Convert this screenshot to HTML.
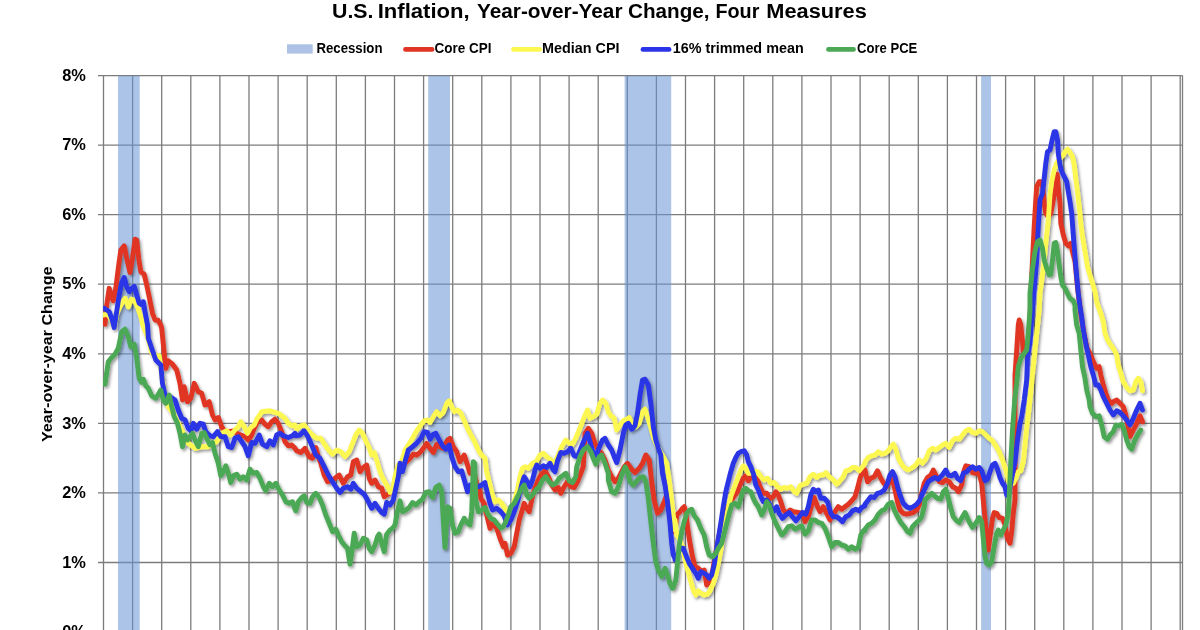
<!DOCTYPE html>
<html><head><meta charset="utf-8"><title>U.S. Inflation</title>
<style>
html,body{margin:0;padding:0;background:#fff;}
body{width:1200px;height:630px;overflow:hidden;font-family:"Liberation Sans",sans-serif;}
svg{display:block}
text{font-family:"Liberation Sans",sans-serif;font-weight:bold;fill:#000;}
</style></head><body>
<svg width="1200" height="630" viewBox="0 0 1200 630">
<defs><clipPath id="cp"><rect x="102.9" y="0" width="1100" height="640"/></clipPath><filter id="sh" x="-5%" y="-5%" width="110%" height="110%"><feDropShadow dx="1.6" dy="2" stdDeviation="1.8" flood-color="#000" flood-opacity="0.42"/></filter></defs>
<rect width="1200" height="630" fill="#fff"/>
<g stroke="#7c7c7c" stroke-width="1.3" shape-rendering="auto"><line x1="103.5" y1="75.5" x2="103.5" y2="640"/><line x1="132.6" y1="75.5" x2="132.6" y2="640"/><line x1="161.7" y1="75.5" x2="161.7" y2="640"/><line x1="190.8" y1="75.5" x2="190.8" y2="640"/><line x1="219.9" y1="75.5" x2="219.9" y2="640"/><line x1="249.0" y1="75.5" x2="249.0" y2="640"/><line x1="278.1" y1="75.5" x2="278.1" y2="640"/><line x1="307.2" y1="75.5" x2="307.2" y2="640"/><line x1="336.3" y1="75.5" x2="336.3" y2="640"/><line x1="365.4" y1="75.5" x2="365.4" y2="640"/><line x1="394.5" y1="75.5" x2="394.5" y2="640"/><line x1="423.6" y1="75.5" x2="423.6" y2="640"/><line x1="452.7" y1="75.5" x2="452.7" y2="640"/><line x1="481.8" y1="75.5" x2="481.8" y2="640"/><line x1="510.9" y1="75.5" x2="510.9" y2="640"/><line x1="540.0" y1="75.5" x2="540.0" y2="640"/><line x1="569.1" y1="75.5" x2="569.1" y2="640"/><line x1="598.2" y1="75.5" x2="598.2" y2="640"/><line x1="627.3" y1="75.5" x2="627.3" y2="640"/><line x1="656.4" y1="75.5" x2="656.4" y2="640"/><line x1="685.5" y1="75.5" x2="685.5" y2="640"/><line x1="714.6" y1="75.5" x2="714.6" y2="640"/><line x1="743.7" y1="75.5" x2="743.7" y2="640"/><line x1="772.8" y1="75.5" x2="772.8" y2="640"/><line x1="801.9" y1="75.5" x2="801.9" y2="640"/><line x1="831.0" y1="75.5" x2="831.0" y2="640"/><line x1="860.1" y1="75.5" x2="860.1" y2="640"/><line x1="889.2" y1="75.5" x2="889.2" y2="640"/><line x1="918.3" y1="75.5" x2="918.3" y2="640"/><line x1="947.4" y1="75.5" x2="947.4" y2="640"/><line x1="976.5" y1="75.5" x2="976.5" y2="640"/><line x1="1005.6" y1="75.5" x2="1005.6" y2="640"/><line x1="1034.7" y1="75.5" x2="1034.7" y2="640"/><line x1="1063.8" y1="75.5" x2="1063.8" y2="640"/><line x1="1092.9" y1="75.5" x2="1092.9" y2="640"/><line x1="1122.0" y1="75.5" x2="1122.0" y2="640"/><line x1="1151.1" y1="75.5" x2="1151.1" y2="640"/><line x1="1180.2" y1="75.5" x2="1180.2" y2="640"/><line x1="98" y1="632.0" x2="1182.5" y2="632.0"/><line x1="98" y1="562.5" x2="1182.5" y2="562.5"/><line x1="98" y1="492.9" x2="1182.5" y2="492.9"/><line x1="98" y1="423.4" x2="1182.5" y2="423.4"/><line x1="98" y1="353.8" x2="1182.5" y2="353.8"/><line x1="98" y1="284.2" x2="1182.5" y2="284.2"/><line x1="98" y1="214.7" x2="1182.5" y2="214.7"/><line x1="98" y1="145.2" x2="1182.5" y2="145.2"/><line x1="98" y1="75.6" x2="1182.5" y2="75.6"/><line x1="1182.5" y1="75.5" x2="1182.5" y2="640"/></g>
<g fill="#6894d3" fill-opacity="0.55"><rect x="118" y="76" width="21.7" height="570"/><rect x="428.2" y="76" width="21.8" height="570"/><rect x="624.6" y="76" width="46.6" height="570"/><rect x="981.1" y="76" width="9.9" height="570"/></g>
<g font-size="20.3">
<text x="332" y="17.5" textLength="41.5" lengthAdjust="spacingAndGlyphs">U.S.</text>
<text x="377.7" y="17.5" textLength="92" lengthAdjust="spacingAndGlyphs">Inflation,</text>
<text x="477" y="17.5" textLength="145.5" lengthAdjust="spacingAndGlyphs">Year-over-Year</text>
<text x="628" y="17.5" textLength="81.5" lengthAdjust="spacingAndGlyphs">Change,</text>
<text x="715.4" y="17.5" textLength="44" lengthAdjust="spacingAndGlyphs">Four</text>
<text x="766.3" y="17.5" textLength="100.5" lengthAdjust="spacingAndGlyphs">Measures</text>
</g>
<g font-size="14.3">
<rect x="287" y="44.3" width="25.7" height="9.3" fill="#adc2e5"/>
<text x="316.5" y="52.9" textLength="66" lengthAdjust="spacingAndGlyphs">Recession</text>
<line x1="405.5" y1="49.4" x2="432" y2="49.4" stroke="#e03524" stroke-width="4.8" stroke-linecap="round"/>
<text x="434.5" y="52.9" textLength="57" lengthAdjust="spacingAndGlyphs">Core CPI</text>
<line x1="513.5" y1="49.4" x2="539.5" y2="49.4" stroke="#fdf851" stroke-width="4.8" stroke-linecap="round"/>
<text x="542" y="52.9" textLength="77.5" lengthAdjust="spacingAndGlyphs">Median CPI</text>
<line x1="643" y1="49.4" x2="669" y2="49.4" stroke="#2b34e6" stroke-width="4.8" stroke-linecap="round"/>
<text x="672.7" y="52.9" textLength="131" lengthAdjust="spacingAndGlyphs">16% trimmed mean</text>
<line x1="828.5" y1="49.4" x2="853.5" y2="49.4" stroke="#4ba854" stroke-width="4.8" stroke-linecap="round"/>
<text x="857" y="52.9" textLength="60.3" lengthAdjust="spacingAndGlyphs">Core PCE</text>
</g>
<g font-size="16.4"><text x="85.9" y="637.1" text-anchor="end">0%</text><text x="85.9" y="567.6" text-anchor="end">1%</text><text x="85.9" y="498.0" text-anchor="end">2%</text><text x="85.9" y="428.5" text-anchor="end">3%</text><text x="85.9" y="358.9" text-anchor="end">4%</text><text x="85.9" y="289.4" text-anchor="end">5%</text><text x="85.9" y="219.8" text-anchor="end">6%</text><text x="85.9" y="150.3" text-anchor="end">7%</text><text x="85.9" y="80.7" text-anchor="end">8%</text></g>
<text transform="translate(51.5,442) rotate(-90)" font-size="15.5" textLength="175.5" lengthAdjust="spacingAndGlyphs">Year-over-year Change</text>
<g fill="none" stroke-width="4.9" stroke-linejoin="round" stroke-linecap="round" filter="url(#sh)" clip-path="url(#cp)">
<path d="M105.0,324.2 L106.7,305.0 L109.2,288.3 L111.7,296.7 L113.3,300.8 L115.8,288.3 L118.3,268.3 L120.8,250.0 L124.2,245.8 L126.7,258.3 L130.0,272.5 L132.5,258.3 L135.0,239.2 L136.7,240.0 L138.7,258.3 L140.8,271.7 L144.2,274.2 L146.7,285.0 L149.2,296.7 L152.5,313.3 L155.0,320.0 L158.0,320.3 L160.8,325.0 L161.7,328.3 L164.2,353.3 L165.8,368.3 L168.3,360.8 L172.5,364.2 L176.7,370.0 L180.0,383.3 L182.5,400.0 L184.2,386.7 L187.5,401.7 L190.8,398.3 L194.2,383.3 L198.3,391.7 L201.7,393.3 L205.0,405.0 L209.2,401.7 L212.5,415.0 L215.0,420.0 L218.3,417.5 L221.7,426.7 L224.2,430.8 L228.3,431.7 L233.3,430.8 L236.7,433.3 L245.0,436.7 L248.3,440.0 L251.7,435.0 L254.2,428.3 L257.5,421.7 L261.7,420.0 L265.0,424.2 L268.3,426.7 L271.7,421.7 L275.0,419.2 L278.3,423.3 L281.7,431.7 L285.0,441.7 L288.3,445.8 L291.7,445.0 L295.0,448.3 L296.7,450.8 L300.8,452.5 L305.0,448.3 L309.2,456.7 L312.5,458.3 L315.8,447.5 L318.3,456.7 L320.8,463.3 L324.2,475.0 L327.5,481.7 L330.8,480.8 L335.0,478.3 L339.2,475.0 L343.3,483.3 L347.5,476.7 L350.8,475.0 L353.3,461.7 L356.7,460.0 L360.0,471.7 L363.3,467.5 L366.7,465.0 L369.2,478.3 L371.7,483.3 L375.0,480.0 L378.3,486.7 L381.7,488.3 L384.2,496.7 L386.7,495.0 L391.7,491.7 L395.8,480.0 L400.0,466.7 L405.0,463.3 L410.0,458.3 L413.3,454.2 L416.7,455.0 L420.0,452.5 L423.3,448.3 L426.7,443.3 L430.0,448.3 L433.3,452.5 L436.7,444.2 L440.0,446.7 L443.3,448.3 L447.5,440.0 L450.0,438.3 L453.3,446.7 L456.7,451.7 L460.0,461.7 L464.2,455.0 L467.5,465.0 L470.0,473.3 L473.3,468.3 L476.7,483.3 L480.0,491.7 L480.8,498.3 L484.2,503.3 L486.7,515.0 L490.0,528.3 L493.3,523.3 L496.7,528.3 L500.0,538.3 L503.3,546.7 L505.0,543.3 L507.5,555.0 L510.8,553.3 L514.2,546.7 L516.7,533.3 L519.2,520.0 L521.7,511.7 L524.2,503.3 L526.7,508.3 L529.2,511.7 L531.7,500.0 L534.2,490.0 L537.5,481.7 L540.8,475.0 L545.0,470.8 L548.3,476.7 L551.7,485.0 L555.0,490.0 L558.3,487.5 L560.8,493.3 L564.2,486.7 L567.5,481.7 L570.8,486.7 L574.2,487.5 L577.5,481.7 L580.8,473.3 L583.3,466.7 L585.0,433.3 L588.3,428.3 L591.7,433.3 L595.0,443.3 L598.3,450.0 L601.7,453.3 L605.0,460.0 L608.3,470.0 L611.7,476.7 L615.0,481.7 L618.3,478.3 L621.7,471.7 L624.2,466.7 L627.5,463.3 L631.7,469.2 L635.0,472.5 L639.2,468.3 L642.5,463.3 L645.8,455.0 L649.2,460.0 L651.7,481.7 L654.2,500.0 L657.5,513.3 L660.8,510.0 L664.2,501.7 L666.7,495.0 L669.2,506.7 L672.5,523.3 L675.0,531.7 L676.7,515.0 L680.0,511.7 L682.5,508.3 L684.2,506.7 L685.8,511.7 L687.5,526.7 L690.0,543.3 L692.5,556.7 L695.0,566.7 L698.3,568.3 L701.7,571.7 L704.2,570.0 L706.7,585.0 L709.2,581.7 L712.5,571.7 L715.0,556.7 L718.3,540.0 L721.7,521.7 L725.0,513.3 L728.3,506.7 L731.7,500.0 L735.0,495.0 L737.5,491.7 L740.0,485.0 L743.3,478.3 L745.8,475.8 L748.3,480.8 L750.8,477.5 L754.2,476.7 L757.5,480.0 L760.0,486.7 L763.3,493.3 L766.7,493.3 L770.0,498.3 L773.3,496.7 L775.8,491.7 L778.3,495.0 L780.8,501.7 L783.3,510.0 L786.7,513.3 L790.0,510.0 L793.3,511.7 L798.3,512.5 L803.3,513.3 L805.0,521.7 L808.3,516.7 L811.7,505.0 L814.2,497.5 L817.5,506.7 L820.0,511.7 L823.3,506.7 L826.7,513.3 L830.0,520.0 L832.5,515.0 L835.0,511.7 L838.3,506.7 L841.7,509.2 L845.0,506.7 L848.3,504.2 L851.7,500.8 L855.0,496.7 L857.5,488.3 L860.0,478.3 L862.5,471.7 L865.0,470.0 L867.5,481.7 L870.8,478.3 L874.2,476.7 L877.5,470.8 L880.0,476.7 L883.3,482.5 L886.7,486.7 L890.0,481.7 L892.5,478.3 L895.0,490.0 L897.5,501.7 L900.0,510.0 L903.3,513.3 L906.7,514.2 L910.0,513.3 L913.3,512.5 L916.7,510.0 L919.2,505.0 L921.7,493.3 L924.2,483.3 L927.5,477.5 L930.8,475.0 L933.3,470.0 L935.8,475.0 L939.2,481.7 L942.5,482.5 L945.8,480.0 L949.2,481.7 L952.5,486.7 L955.8,488.3 L958.3,491.7 L961.7,485.0 L964.2,470.0 L965.8,465.8 L969.2,466.7 L972.5,472.5 L975.8,473.3 L979.2,473.3 L981.7,483.3 L984.2,510.0 L985.8,526.7 L987.5,548.3 L988.3,550.0 L990.0,536.7 L992.5,518.3 L994.2,512.5 L996.7,513.3 L999.2,517.5 L1002.5,518.3 L1005.0,525.0 L1007.5,538.3 L1010.0,543.3 L1011.7,531.7 L1013.3,513.3 L1015.0,500.0 L1015.0,375.0 L1016.7,350.0 L1018.3,325.0 L1019.2,320.0 L1020.8,325.0 L1022.5,341.7 L1023.3,353.3 L1025.8,355.0 L1028.3,341.7 L1030.0,316.7 L1031.3,285.0 L1032.5,260.0 L1034.2,226.7 L1035.8,200.0 L1036.7,186.7 L1039.2,181.7 L1041.7,181.7 L1043.3,191.7 L1044.2,203.3 L1045.8,213.3 L1048.3,216.7 L1050.8,213.3 L1053.3,200.0 L1055.8,186.7 L1057.2,174.2 L1058.3,186.7 L1060.0,203.3 L1060.8,223.3 L1063.3,235.0 L1065.8,243.3 L1068.3,245.8 L1070.8,243.3 L1072.5,251.7 L1075.0,261.7 L1078.0,291.7 L1081.0,315.0 L1084.0,333.3 L1087.0,348.3 L1090.0,353.3 L1093.3,361.7 L1096.7,368.3 L1099.2,366.7 L1100.8,375.0 L1103.3,385.0 L1105.8,393.3 L1108.3,400.0 L1111.7,403.3 L1113.3,401.7 L1116.7,400.0 L1120.0,403.3 L1123.3,406.7 L1125.8,415.0 L1128.3,428.3 L1130.0,436.7 L1133.3,430.0 L1136.7,423.3 L1140.0,415.8 L1142.5,421.7" stroke="#e03524"/>
<path d="M103.3,315.0 L107.5,314.2 L111.7,320.0 L114.2,327.0 L117.0,313.3 L120.0,306.7 L122.5,302.0 L125.3,298.3 L128.3,307.0 L131.3,299.2 L134.2,300.3 L138.0,308.3 L140.7,316.7 L143.2,325.8 L147.2,335.8 L151.7,352.5 L154.2,355.8 L159.2,355.8 L161.7,375.0 L165.0,398.3 L168.3,406.7 L173.3,413.3 L178.3,423.3 L181.7,430.0 L188.3,443.3 L195.0,448.3 L203.3,446.7 L208.3,446.7 L216.7,441.7 L221.7,433.3 L226.7,430.8 L230.8,435.0 L235.0,430.0 L238.3,426.7 L240.8,421.7 L244.2,426.7 L247.5,433.3 L250.8,427.5 L254.2,425.0 L256.7,419.2 L259.2,415.8 L261.7,411.7 L270.0,410.8 L278.3,413.3 L285.0,418.3 L288.3,423.3 L291.7,425.8 L295.0,425.0 L296.7,429.2 L300.8,425.8 L304.2,425.0 L308.3,430.8 L312.5,435.0 L316.7,438.3 L320.8,438.3 L325.0,445.0 L329.2,450.8 L332.5,454.2 L336.7,450.0 L340.8,451.7 L345.0,456.7 L349.2,451.7 L352.5,443.3 L355.8,435.0 L359.2,430.0 L362.5,433.3 L365.8,440.8 L369.2,447.5 L371.7,455.0 L374.2,452.5 L376.7,460.0 L380.0,471.7 L383.3,479.2 L386.7,485.0 L390.0,491.7 L390.0,492.5 L392.5,490.0 L395.0,476.7 L398.3,465.0 L401.7,461.7 L405.0,450.0 L408.3,445.0 L412.5,438.3 L416.7,430.8 L420.8,425.0 L424.2,420.8 L427.5,420.0 L430.0,422.5 L433.3,416.7 L436.7,411.7 L440.0,415.8 L443.3,412.5 L446.7,403.3 L449.2,400.8 L451.7,406.7 L454.2,411.7 L457.5,410.0 L460.8,413.3 L464.2,420.8 L467.5,428.3 L470.8,435.0 L474.2,440.8 L477.5,448.3 L480.8,454.2 L485.0,458.3 L486.7,471.7 L490.0,485.0 L492.5,495.0 L495.0,501.7 L498.3,500.0 L501.7,503.3 L505.0,508.3 L507.5,515.0 L510.8,510.0 L514.2,501.7 L517.5,490.0 L520.0,476.7 L522.5,468.3 L525.0,466.7 L528.3,468.3 L532.5,463.3 L536.7,460.8 L540.0,455.0 L543.3,453.3 L546.7,456.7 L550.8,460.0 L554.2,463.3 L557.5,456.7 L561.7,446.7 L565.8,440.0 L569.2,443.3 L572.5,444.2 L575.8,438.3 L579.2,430.0 L582.5,421.7 L585.0,415.0 L587.5,410.0 L590.0,418.3 L593.3,416.7 L596.7,414.2 L600.0,403.3 L602.5,400.0 L605.8,403.3 L608.3,411.7 L610.8,415.8 L614.2,418.3 L616.7,430.0 L620.0,425.0 L623.3,420.8 L626.7,419.2 L629.2,417.5 L632.5,425.0 L635.8,426.7 L639.2,423.3 L642.5,411.7 L645.0,409.2 L647.5,416.7 L650.0,425.0 L653.3,436.7 L656.7,445.0 L660.0,451.7 L663.3,456.7 L666.7,463.3 L668.3,473.3 L670.8,493.3 L673.3,515.0 L675.0,530.0 L675.0,520.0 L676.7,535.0 L680.0,540.0 L683.3,550.0 L686.7,566.7 L690.0,578.3 L693.3,590.0 L695.8,595.0 L698.3,590.8 L700.8,593.3 L704.2,595.0 L707.5,594.2 L710.0,590.8 L713.3,583.3 L715.8,575.0 L718.3,563.3 L720.8,550.0 L723.3,533.3 L725.8,520.0 L728.3,508.3 L730.8,496.7 L733.3,490.0 L735.8,483.3 L738.3,476.7 L740.8,470.0 L743.3,465.8 L745.8,468.3 L748.3,473.3 L751.7,473.3 L755.0,471.7 L757.5,471.7 L760.8,476.7 L764.2,480.0 L767.5,478.3 L770.8,483.3 L774.2,482.5 L777.5,486.7 L780.8,489.2 L784.2,487.5 L787.5,488.3 L790.8,486.7 L794.2,491.7 L796.7,493.3 L800.0,485.8 L803.3,484.2 L806.7,483.3 L810.0,476.7 L813.3,474.2 L816.7,477.5 L820.0,475.0 L823.3,475.0 L825.8,472.5 L829.2,476.7 L833.3,480.0 L836.7,484.2 L840.0,480.8 L843.3,476.7 L845.8,470.8 L849.2,470.0 L852.5,467.5 L855.8,467.5 L859.2,470.8 L862.5,466.7 L865.0,463.3 L865.0,461.7 L868.3,457.5 L871.7,455.8 L875.0,455.0 L878.3,451.7 L881.7,454.2 L885.0,453.3 L888.3,450.8 L890.8,446.7 L893.3,444.2 L895.8,449.2 L898.3,458.3 L901.7,464.2 L905.0,468.3 L908.3,470.0 L912.5,467.5 L915.8,465.0 L919.2,460.0 L922.5,463.3 L925.8,459.2 L929.2,450.8 L932.5,448.3 L935.8,450.0 L939.2,447.5 L942.5,445.0 L945.8,443.3 L949.2,447.5 L952.5,440.8 L955.8,438.3 L959.2,439.2 L962.5,435.0 L965.8,430.8 L969.2,429.2 L972.5,432.5 L975.8,433.3 L979.2,430.8 L982.5,431.7 L985.8,435.0 L989.2,438.3 L992.5,440.8 L995.8,445.8 L999.2,451.7 L1002.5,460.0 L1005.8,470.0 L1008.3,480.0 L1010.8,485.0 L1013.3,483.3 L1015.8,478.3 L1018.3,471.7 L1020.8,470.8 L1023.3,461.7 L1025.0,445.0 L1026.7,428.3 L1027.5,421.7 L1030.0,400.0 L1031.7,383.3 L1034.2,358.3 L1036.7,333.3 L1039.2,310.0 L1040.0,293.3 L1043.3,268.3 L1045.8,243.3 L1048.3,220.0 L1050.0,195.0 L1051.7,181.7 L1054.2,170.0 L1056.7,163.3 L1060.0,158.3 L1063.3,155.0 L1065.8,150.8 L1067.5,149.2 L1070.0,152.5 L1072.5,156.7 L1074.2,165.0 L1075.8,178.3 L1077.5,191.7 L1079.2,206.7 L1080.8,223.3 L1082.5,236.7 L1085.0,251.7 L1087.5,266.7 L1090.0,275.0 L1092.5,283.3 L1095.0,291.7 L1096.7,301.7 L1098.3,306.7 L1100.8,313.3 L1103.3,321.7 L1105.0,333.3 L1107.5,340.0 L1110.8,345.0 L1114.2,350.0 L1116.7,355.0 L1118.3,365.0 L1120.8,373.3 L1123.3,381.7 L1126.7,387.5 L1130.0,390.8 L1133.3,390.0 L1135.8,381.7 L1138.3,378.3 L1140.8,381.7 L1142.5,390.8" stroke="#fdf851"/>
<path d="M104.2,308.3 L109.2,311.7 L111.7,318.3 L114.2,327.5 L116.7,311.7 L119.2,295.0 L121.7,282.5 L124.2,277.5 L126.7,286.7 L129.2,291.7 L131.7,288.3 L134.2,286.3 L136.7,295.0 L139.2,303.3 L141.7,304.7 L143.3,301.7 L145.0,311.7 L147.5,325.0 L148.3,338.3 L152.5,350.8 L155.8,360.0 L160.8,365.0 L162.5,383.3 L165.8,398.3 L170.0,396.7 L175.0,400.0 L178.3,410.0 L181.7,418.3 L185.0,420.0 L188.3,428.3 L190.8,430.8 L193.3,423.3 L196.7,429.2 L200.0,423.3 L203.3,424.2 L205.8,431.7 L210.0,435.8 L213.3,436.7 L217.5,431.7 L220.8,436.7 L225.0,436.7 L228.3,446.7 L231.7,447.5 L235.0,438.3 L238.3,436.7 L241.7,441.7 L245.0,446.7 L248.3,455.8 L251.7,442.5 L255.0,443.3 L259.2,435.0 L262.5,444.2 L266.7,446.7 L270.0,440.8 L273.3,445.0 L276.7,435.0 L280.0,433.3 L283.3,435.8 L288.3,437.5 L292.5,435.8 L295.0,433.3 L295.8,435.8 L300.0,435.0 L304.2,430.8 L307.5,435.8 L311.7,445.0 L315.8,455.0 L320.0,458.3 L324.2,466.7 L328.3,475.0 L332.5,481.7 L336.7,488.3 L340.0,492.5 L343.3,488.3 L347.5,486.7 L350.8,489.2 L353.3,483.3 L356.7,488.3 L360.8,491.7 L364.2,494.2 L367.5,500.0 L371.7,508.3 L375.0,503.3 L378.3,508.3 L381.7,512.5 L384.2,514.2 L386.7,502.5 L390.0,505.0 L393.3,500.0 L395.8,488.3 L398.3,476.7 L400.0,463.3 L402.5,471.7 L405.0,461.7 L408.3,450.0 L411.7,447.5 L416.7,443.3 L420.8,438.3 L424.2,431.7 L427.5,432.5 L430.0,439.2 L433.3,434.2 L435.8,433.3 L439.2,440.0 L442.5,445.8 L445.8,449.2 L449.2,445.0 L451.7,456.7 L455.0,466.7 L458.3,471.7 L461.7,470.8 L465.0,482.5 L467.5,491.7 L470.0,485.0 L473.3,485.8 L478.3,486.7 L481.7,485.0 L485.0,482.5 L485.0,483.3 L487.5,493.3 L490.0,503.3 L492.5,510.0 L496.7,508.3 L500.8,511.7 L504.2,515.8 L507.5,525.0 L510.8,520.0 L514.2,511.7 L517.5,501.7 L520.0,491.7 L522.5,481.7 L524.2,476.7 L526.7,480.8 L530.0,486.7 L532.5,480.0 L535.0,470.0 L536.7,465.0 L540.0,468.3 L543.3,465.8 L546.7,467.5 L550.0,463.3 L553.3,470.0 L555.0,471.7 L557.5,460.8 L560.8,452.5 L564.2,453.3 L567.5,451.7 L570.8,448.3 L574.2,455.8 L577.5,456.7 L580.8,448.3 L584.2,440.0 L587.5,433.3 L590.0,441.7 L593.3,453.3 L595.8,456.7 L599.2,447.5 L602.5,440.0 L605.0,438.3 L608.3,445.0 L611.7,450.0 L614.2,456.7 L616.7,462.5 L620.0,450.0 L623.3,433.3 L625.8,425.0 L628.3,423.3 L631.7,429.2 L635.0,425.8 L637.5,413.3 L640.0,395.0 L642.5,380.0 L645.0,379.2 L648.3,385.0 L650.8,403.3 L653.3,426.7 L655.8,440.0 L658.3,448.3 L660.8,455.0 L662.5,473.3 L665.0,485.0 L667.5,501.7 L670.0,523.3 L671.7,543.3 L673.3,555.0 L675.0,558.3 L675.0,560.0 L677.5,555.0 L680.0,548.3 L683.3,548.3 L685.8,555.0 L689.2,563.3 L692.5,568.3 L695.8,573.3 L698.3,578.3 L700.8,571.7 L704.2,573.3 L706.7,575.0 L709.2,578.3 L711.7,575.0 L714.2,565.0 L716.7,548.3 L719.2,533.3 L720.8,523.3 L723.3,506.7 L725.8,491.7 L728.3,481.7 L730.8,471.7 L733.3,463.3 L735.8,457.5 L738.3,453.3 L740.8,451.7 L744.2,450.8 L746.7,455.0 L748.3,461.7 L750.8,466.7 L753.3,473.3 L755.8,485.0 L758.3,490.0 L760.8,496.7 L763.3,501.7 L766.7,500.0 L769.2,503.3 L771.7,508.3 L774.2,510.8 L776.7,506.7 L779.2,513.3 L782.5,518.3 L785.8,515.0 L789.2,512.5 L792.5,516.7 L795.8,520.8 L799.2,516.7 L802.5,512.5 L805.8,514.2 L808.3,506.7 L810.8,495.0 L813.3,489.2 L815.8,491.7 L818.3,490.0 L820.8,498.3 L824.2,498.3 L827.5,501.7 L830.8,513.3 L833.3,516.7 L836.7,516.7 L840.0,519.2 L842.5,521.7 L845.8,516.7 L849.2,515.0 L852.5,510.8 L855.8,509.2 L859.2,510.8 L861.7,507.5 L865.0,505.8 L865.0,504.2 L868.3,500.0 L870.8,496.7 L874.2,497.5 L877.5,493.3 L880.8,492.5 L884.2,490.0 L887.5,483.3 L890.0,475.0 L892.5,471.7 L895.0,476.7 L897.5,486.7 L900.0,495.0 L903.3,503.3 L906.7,506.7 L910.0,508.3 L913.3,506.7 L916.7,504.2 L920.0,500.0 L922.5,493.3 L925.0,488.3 L928.3,481.7 L931.7,479.2 L935.0,477.5 L938.3,479.2 L941.7,475.8 L945.8,470.0 L948.3,475.0 L951.7,475.8 L955.0,473.3 L957.5,478.3 L960.8,480.8 L963.3,473.3 L966.7,471.7 L970.0,468.3 L972.5,466.7 L975.8,469.2 L979.2,467.5 L981.7,470.8 L985.0,480.8 L987.5,479.2 L990.0,471.7 L992.5,465.0 L995.0,463.3 L997.5,469.2 L1000.0,477.5 L1002.5,483.3 L1005.0,486.7 L1006.7,495.0 L1009.2,491.7 L1011.7,478.3 L1015.0,461.7 L1017.5,440.0 L1020.0,423.3 L1021.7,416.7 L1024.2,400.0 L1026.7,380.0 L1027.5,358.3 L1030.0,341.7 L1031.7,320.0 L1033.3,300.0 L1034.2,290.0 L1036.7,260.0 L1038.3,226.7 L1040.0,200.0 L1042.5,193.3 L1044.2,178.3 L1045.8,163.3 L1047.5,151.7 L1050.0,150.0 L1052.5,138.3 L1054.2,131.7 L1055.8,131.7 L1057.5,140.0 L1058.3,153.3 L1060.0,165.0 L1061.7,171.7 L1064.2,176.7 L1066.7,181.7 L1068.3,191.7 L1070.0,201.7 L1071.7,213.3 L1073.3,235.0 L1075.0,256.7 L1076.7,276.7 L1078.3,293.3 L1080.0,306.7 L1081.7,316.7 L1083.3,330.0 L1085.8,343.3 L1088.3,355.0 L1090.8,366.7 L1093.3,375.0 L1095.8,385.0 L1098.3,385.0 L1100.8,390.0 L1103.3,396.7 L1106.7,403.3 L1110.0,410.0 L1113.3,415.0 L1116.7,410.8 L1120.0,412.5 L1123.3,415.8 L1126.7,420.0 L1130.0,425.0 L1133.3,418.3 L1136.7,410.0 L1140.0,403.3 L1142.5,410.0" stroke="#2b34e6"/>
<path d="M105.0,384.2 L108.3,361.7 L111.7,357.5 L115.0,354.2 L118.3,348.3 L121.7,331.7 L125.0,329.2 L128.3,336.7 L130.8,346.7 L134.2,344.2 L136.7,358.3 L139.2,378.3 L141.7,382.5 L143.3,379.2 L145.8,385.8 L148.3,388.3 L151.7,395.8 L155.8,398.3 L158.3,394.2 L160.8,390.0 L163.3,400.0 L165.8,403.3 L169.2,395.0 L171.7,406.7 L174.2,416.7 L177.5,423.3 L180.0,433.3 L182.5,446.7 L185.0,435.0 L187.5,440.0 L190.0,436.7 L192.5,433.3 L195.0,440.0 L198.3,446.7 L201.7,433.3 L204.2,432.5 L207.5,440.0 L210.0,445.0 L212.5,442.5 L215.0,453.3 L218.3,463.3 L220.8,475.8 L223.3,471.7 L225.8,465.8 L228.3,473.3 L230.8,482.5 L233.3,475.8 L236.7,474.2 L240.0,479.2 L243.3,476.7 L246.7,480.0 L250.0,469.2 L253.3,473.3 L256.7,472.5 L260.0,478.3 L263.3,486.7 L265.8,490.8 L269.2,483.3 L272.5,486.7 L275.8,483.3 L279.2,490.0 L282.5,495.0 L285.8,501.7 L289.2,503.3 L292.5,501.7 L295.0,509.2 L295.8,510.8 L298.3,501.7 L301.7,497.5 L304.2,495.8 L306.7,502.5 L310.0,503.3 L312.5,496.7 L315.8,493.3 L319.2,497.5 L322.5,505.0 L325.8,515.0 L329.2,523.3 L332.5,531.7 L335.8,529.2 L338.3,535.0 L341.7,541.7 L345.0,545.8 L347.5,548.3 L350.0,564.2 L351.7,553.3 L354.2,533.3 L356.7,546.7 L360.0,545.0 L363.3,538.3 L366.7,540.0 L369.2,548.3 L371.7,551.7 L375.0,545.0 L377.5,536.7 L379.2,534.2 L381.7,543.3 L384.2,551.7 L386.7,534.2 L390.0,530.0 L392.5,528.3 L395.0,525.0 L397.5,510.8 L400.0,500.8 L402.5,511.7 L405.8,510.0 L409.2,507.5 L412.5,502.5 L415.8,505.0 L419.2,501.7 L422.5,499.2 L425.8,492.5 L429.2,491.7 L432.5,497.5 L435.8,487.5 L439.2,485.0 L441.7,491.7 L443.3,520.0 L445.0,547.5 L447.5,506.7 L450.0,508.3 L452.5,525.0 L455.0,533.3 L458.3,531.7 L460.8,525.0 L464.2,518.3 L467.5,523.3 L470.0,525.0 L471.7,511.7 L472.8,480.0 L473.3,461.7 L474.7,463.3 L475.8,500.0 L478.3,511.7 L481.7,510.0 L485.0,507.5 L487.5,513.3 L490.8,518.3 L494.2,520.0 L497.5,524.2 L500.8,528.3 L503.3,526.7 L505.8,521.7 L508.3,515.0 L510.8,506.7 L514.2,503.3 L517.5,496.7 L520.8,490.0 L524.2,485.0 L526.7,495.0 L529.2,498.3 L532.5,495.0 L535.8,490.0 L539.2,486.7 L542.5,480.0 L545.8,476.7 L549.2,481.7 L552.5,485.0 L555.8,483.3 L559.2,478.3 L562.5,475.8 L565.8,473.3 L569.2,480.8 L572.5,482.5 L575.8,476.7 L576.7,466.7 L580.0,456.7 L583.3,450.0 L587.5,446.7 L590.8,451.7 L593.3,458.3 L595.8,464.2 L599.2,456.7 L601.7,455.0 L605.0,463.3 L608.3,473.3 L608.3,480.0 L611.7,491.7 L615.0,493.3 L618.3,486.7 L621.7,475.0 L625.0,466.7 L627.5,471.7 L630.0,481.7 L633.3,485.0 L636.7,480.8 L640.0,477.5 L643.3,476.7 L645.8,481.7 L648.3,498.3 L650.8,521.7 L653.3,543.3 L655.8,561.7 L658.3,570.0 L661.7,576.7 L665.0,568.3 L667.5,575.0 L670.0,583.3 L672.5,588.3 L673.3,587.5 L675.8,580.0 L677.5,563.3 L679.2,545.0 L681.7,531.7 L684.2,521.7 L686.7,513.3 L690.0,510.0 L691.7,509.2 L694.2,515.8 L697.5,520.0 L700.8,528.3 L704.2,535.0 L706.7,546.7 L709.2,555.0 L712.5,556.7 L715.8,553.3 L718.3,548.3 L721.7,543.3 L724.2,533.3 L726.7,523.3 L729.2,513.3 L731.7,505.0 L735.0,503.3 L738.3,506.7 L740.8,498.3 L743.3,490.0 L745.8,488.3 L748.3,490.8 L750.8,491.7 L753.3,498.3 L755.8,503.3 L758.3,506.7 L761.7,515.0 L764.2,510.0 L766.7,501.7 L769.2,505.0 L771.7,513.3 L775.0,521.7 L778.3,528.3 L781.7,535.0 L785.0,531.7 L788.3,526.7 L791.7,525.8 L795.0,529.2 L798.3,527.5 L801.7,525.8 L805.0,534.2 L808.3,530.8 L811.7,520.0 L815.0,520.0 L818.3,522.5 L821.7,523.3 L825.0,528.3 L828.3,536.7 L831.7,546.7 L835.0,542.5 L838.3,542.5 L841.7,545.0 L845.0,545.8 L848.3,549.2 L851.7,546.7 L855.0,549.2 L858.3,547.5 L860.8,535.0 L863.3,530.8 L865.0,530.8 L865.0,529.2 L868.3,525.0 L871.7,523.3 L875.0,520.0 L878.3,514.2 L881.7,510.8 L885.0,509.2 L888.3,504.2 L891.7,502.5 L894.2,510.0 L897.5,516.7 L900.8,522.5 L904.2,526.7 L907.5,531.7 L910.0,533.3 L912.5,526.7 L915.8,523.3 L919.2,520.0 L921.7,516.7 L924.2,506.7 L925.0,500.0 L928.3,496.7 L931.7,493.3 L934.2,495.8 L937.5,498.3 L940.8,499.2 L943.3,491.7 L945.8,489.2 L948.3,498.3 L950.8,508.3 L953.3,516.7 L956.7,520.8 L959.2,522.5 L962.5,516.7 L965.0,512.5 L967.5,518.3 L970.0,523.3 L972.5,527.5 L975.8,523.3 L979.2,517.5 L981.7,521.7 L983.3,538.3 L985.0,556.7 L986.7,563.3 L989.2,565.0 L991.7,561.7 L994.2,546.7 L996.7,533.3 L998.3,530.0 L1000.8,535.0 L1003.3,530.0 L1005.8,525.0 L1008.3,513.3 L1009.2,495.0 L1010.8,461.7 L1012.5,430.0 L1015.0,396.7 L1016.7,383.3 L1018.3,366.7 L1020.8,358.3 L1024.2,353.3 L1026.7,350.0 L1028.3,333.3 L1030.0,310.0 L1030.0,293.3 L1032.5,268.3 L1035.0,251.7 L1037.5,241.7 L1040.0,240.0 L1042.5,248.3 L1044.2,260.0 L1046.7,268.3 L1049.2,275.0 L1050.8,274.2 L1052.5,260.0 L1054.2,243.3 L1055.8,242.5 L1057.5,251.7 L1059.2,265.0 L1060.8,276.7 L1062.5,285.0 L1065.0,288.3 L1067.5,293.3 L1070.0,298.3 L1073.3,300.8 L1075.0,305.0 L1075.0,310.0 L1076.7,325.0 L1079.2,333.3 L1080.8,350.0 L1082.5,366.7 L1085.0,378.3 L1086.7,390.0 L1089.2,400.0 L1090.0,406.7 L1092.5,413.3 L1095.8,416.7 L1099.2,415.8 L1101.7,425.0 L1104.2,436.7 L1107.5,439.2 L1110.0,435.0 L1113.3,431.7 L1115.8,425.0 L1118.3,425.8 L1121.7,424.2 L1124.2,430.0 L1126.7,440.0 L1129.2,446.7 L1131.7,449.2 L1134.2,441.7 L1137.5,435.0 L1140.8,430.0" stroke="#4ba854"/>
</g>
</svg>
</body></html>
